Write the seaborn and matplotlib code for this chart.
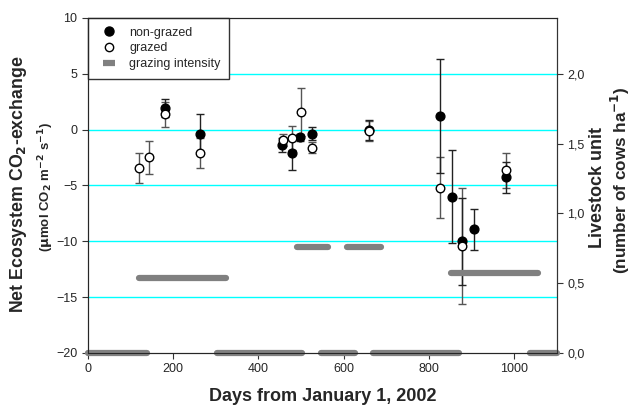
import matplotlib
matplotlib.use("Agg")
import matplotlib.pyplot as plt
from matplotlib.lines import Line2D
from matplotlib.ticker import FuncFormatter
import seaborn as sns
import pandas as pd

# non-grazed (filled circles)
ng_day = [182, 262, 455, 479, 498, 526, 659, 827, 855, 878, 906, 982]
ng_nee = [1.93, -0.37, -1.39, -2.1, -0.7, -0.37, 0.0, 1.24, -6.0, -10.0, -8.95, -4.29]
ng_err = [0.8, 1.8, 0.6, 1.5, 0.3, 0.6, 0.9, 5.1, 4.2, 3.9, 1.8, 1.4]

# grazed (open circles)
g_day = [120, 143, 182, 262, 457, 480, 500, 526, 659, 827, 878, 982]
g_nee = [-3.45, -2.5, 1.36, -2.1, -0.91, -0.73, 1.6, -1.63, -0.13, -5.19, -10.4, -3.66]
g_err = [1.35, 1.5, 1.15, 1.3, 0.55, 1.07, 2.15, 0.5, 0.9, 2.7, 5.2, 1.6]

# grazing intensity periods (livestock units)
gi_start = [0, 120, 304, 490, 547, 608, 669, 851, 1036]
gi_end = [138, 323, 503, 564, 627, 688, 870, 1055, 1100]
gi_level = [0.0, 0.535, 0.0, 0.757, 0.0, 0.757, 0.0, 0.57, 0.0]

sns.set_style("ticks")
plt.rcParams['font.family'] = ['Liberation Sans', 'DejaVu Sans']

fig = plt.figure(figsize=(6.32, 4.07), dpi=100)
ax = fig.add_axes([0.139, 0.133, 0.742, 0.823])

for v in [-15, -10, -5, 0, 5]:
    ax.axhline(v, color="#00ffff", lw=1, zorder=0)

ax.errorbar(g_day, g_nee, yerr=g_err, fmt="none", ecolor="#555555",
            elinewidth=1, capsize=3, capthick=1, zorder=2)
ax.errorbar(ng_day, ng_nee, yerr=ng_err, fmt="none", ecolor="#222222",
            elinewidth=1, capsize=3, capthick=1, zorder=2)

df_ng = pd.DataFrame({"day": ng_day, "nee": ng_nee})
df_g = pd.DataFrame({"day": g_day, "nee": g_nee})
sns.scatterplot(data=df_ng, x="day", y="nee", ax=ax, color="black",
                edgecolor="black", s=40, linewidth=1, zorder=3)
sns.scatterplot(data=df_g, x="day", y="nee", ax=ax, color="white",
                edgecolor="black", s=38, linewidth=1, zorder=4)

ax.set_xlim(0, 1100)
ax.set_ylim(-20, 10)
ax.set_xticks([0, 200, 400, 600, 800, 1000])
ax.set_yticks([-20, -15, -10, -5, 0, 5, 10])
ax.tick_params(labelsize=9, length=4, color="#333333")
ax.set_xlabel("Days from January 1, 2002", fontsize=13, fontweight="bold",
              labelpad=9)
ax.set_ylabel("")
for s in ax.spines.values():
    s.set_color("#333333")

ax2 = ax.twinx()
for x0, x1, lv in zip(gi_start, gi_end, gi_level):
    ax2.plot([x0, x1], [lv, lv], color="#808080", lw=4.5,
             solid_capstyle="round", clip_on=False)
ax2.set_ylim(0, 2.4)
ax2.set_yticks([0, 0.5, 1.0, 1.5, 2.0])
ax2.yaxis.set_major_formatter(FuncFormatter(lambda v, p: f"{v:.1f}".replace(".", ",")))
ax2.tick_params(labelsize=9, length=4, color="#333333")
ax2.spines["right"].set_color("#333333")

fig.text(0.030, 0.548, "Net Ecosystem CO$_\\mathbf{2}$-exchange", rotation=90,
         ha="center", va="center", fontsize=12.8, fontweight="bold")
fig.text(0.073, 0.54, "($\\mathbf{\\mu}$mol CO$_\\mathbf{2}$ m$^\\mathbf{-2}$ s$^\\mathbf{-1}$)",
         rotation=90, ha="center", va="center", fontsize=9.5, fontweight="bold")
fig.text(0.945, 0.54, "Livestock unit", rotation=90,
         ha="center", va="center", fontsize=13, fontweight="bold")
fig.text(0.982, 0.557, "(number of cows ha$^\\mathbf{-1}$)", rotation=90,
         ha="center", va="center", fontsize=12.3, fontweight="bold")

handles = [
    Line2D([], [], marker="o", ls="none", color="black", markersize=6.5),
    Line2D([], [], marker="o", ls="none", markerfacecolor="white",
           markeredgecolor="black", markersize=6),
    Line2D([], [], marker="_", ls="none", color="#808080", markersize=8,
           markeredgewidth=4.5),
]
leg = ax.legend(handles, ["non-grazed", "grazed", "grazing intensity"],
                loc="upper left", bbox_to_anchor=(0, 1), fontsize=9,
                frameon=True, fancybox=False, framealpha=1, edgecolor="#333333",
                handlelength=2.0, borderpad=0.7, labelspacing=0.3,
                handletextpad=0.6, borderaxespad=0)
leg.get_frame().set_linewidth(1)
leg.set_zorder(10)

plt.savefig("out.png", dpi=100)
